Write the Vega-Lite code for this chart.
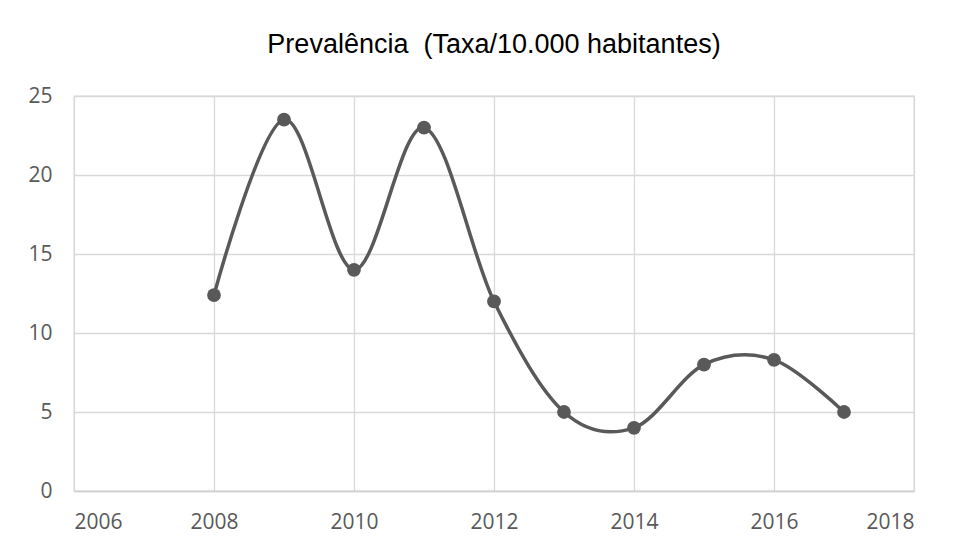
{
  "$schema": "https://vega.github.io/schema/vega-lite/v6.json",
  "width": 840,
  "height": 395,
  "autosize": "none",
  "padding": {"left": 74, "top": 96, "right": 40, "bottom": 56},
  "background": "white",
  "title": {
    "text": "Prevalência \u00a0(Taxa/10.000 habitantes)",
    "font": "Liberation Sans",
    "fontSize": 27,
    "fontWeight": "normal",
    "color": "#000000",
    "anchor": "middle",
    "baseline": "alphabetic",
    "offset": 5
  },
  "config": {
    "view": {"stroke": "#d9d9d9", "strokeWidth": 1.3},
    "axis": {
      "labelFont": "Open Sans",
      "labelFontSize": 21,
      "labelColor": "#595959",
      "gridColor": "#d9d9d9",
      "gridWidth": 1.3,
      "ticks": false,
      "tickSize": 0,
      "title": null
    }
  },
  "data": {
    "values": [
      {"ano": 2008, "taxa": 12.4},
      {"ano": 2009, "taxa": 23.5},
      {"ano": 2010, "taxa": 14.0},
      {"ano": 2011, "taxa": 23.0},
      {"ano": 2012, "taxa": 12.0},
      {"ano": 2013, "taxa": 5.0},
      {"ano": 2014, "taxa": 4.0},
      {"ano": 2015, "taxa": 8.0},
      {"ano": 2016, "taxa": 8.3},
      {"ano": 2017, "taxa": 5.0}
    ]
  },
  "encoding": {
    "x": {
      "field": "ano",
      "type": "quantitative",
      "scale": {"domain": [2006, 2018], "nice": false, "zero": false},
      "axis": {
        "values": [2006, 2008, 2010, 2012, 2014, 2016, 2018],
        "format": "d",
        "grid": true,
        "domain": true,
        "domainColor": "#d0d0d0",
        "domainWidth": 1.3,
        "labelPadding": 20
      }
    },
    "y": {
      "field": "taxa",
      "type": "quantitative",
      "scale": {"domain": [0, 25], "nice": false},
      "axis": {
        "values": [0, 5, 10, 15, 20, 25],
        "grid": true,
        "domain": false,
        "labelPadding": 22
      }
    }
  },
  "layer": [
    {
      "mark": {"type": "line", "interpolate": "cardinal", "color": "#595959", "strokeWidth": 3.5}
    },
    {
      "mark": {"type": "point", "filled": true, "opacity": 1, "color": "#595959", "size": 190}
    }
  ]
}
